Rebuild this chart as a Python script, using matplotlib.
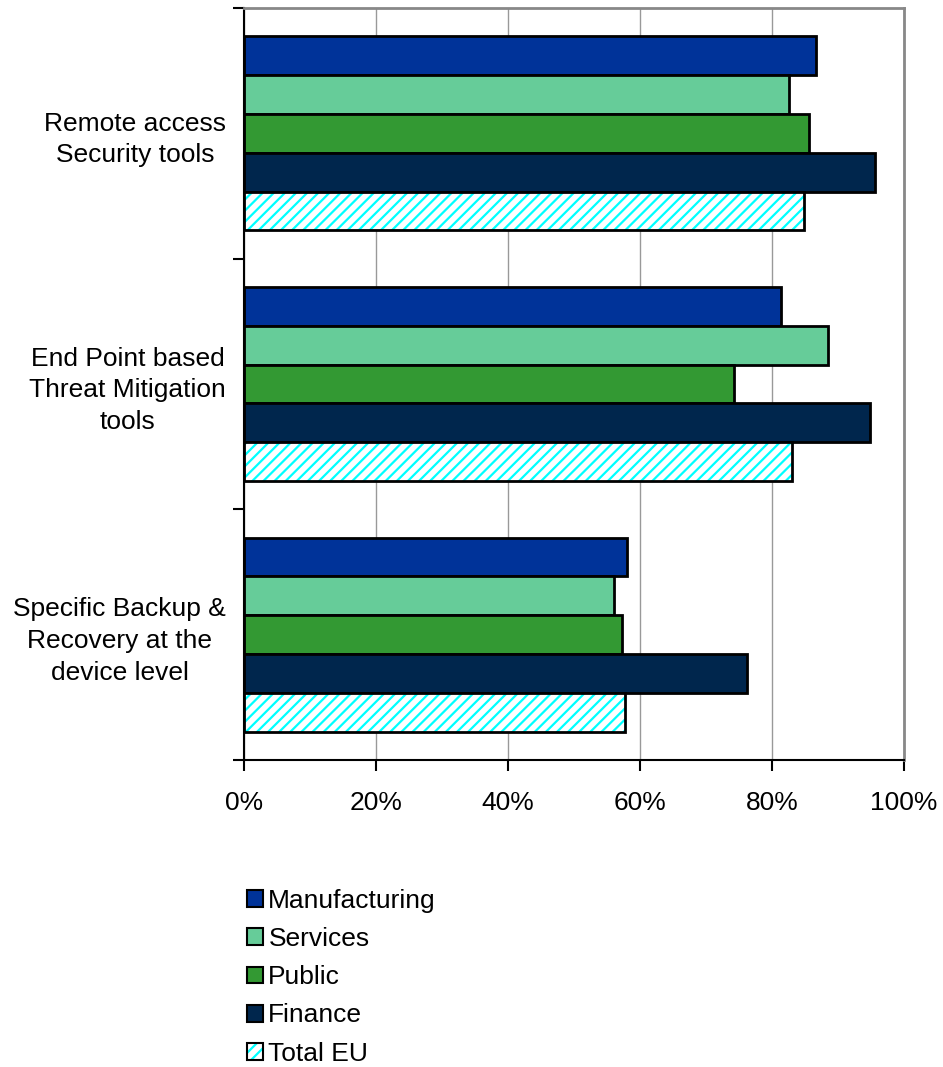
import numpy as np
import matplotlib
matplotlib.use("Agg")
import matplotlib.pyplot as plt
from matplotlib.patches import Patch

plt.rcParams['font.family'] = ['Liberation Sans', 'DejaVu Sans']
plt.rcParams['hatch.linewidth'] = 1.6

categories = [
    "Remote access\nSecurity tools",
    "End Point based\nThreat Mitigation\ntools",
    "Specific Backup &\nRecovery at the\ndevice level",
]
series = ["Manufacturing", "Services", "Public", "Finance", "Total EU"]
manufacturing = [86.6, 81.3, 58.1]
services = [82.6, 88.5, 56.1]
public = [85.6, 74.3, 57.3]
finance = [95.6, 94.8, 76.2]
total_eu = [84.9, 83.0, 57.8]
values = [manufacturing, services, public, finance, total_eu]
colors = ["#003399", "#66CC99", "#339933", "#00264D", "white"]
HATCH = "///"

fig = plt.figure(figsize=(9.43, 10.67), dpi=100)
ax = fig.add_axes([0.2587, 0.2877, 0.7, 0.7048])

centers = np.arange(len(categories)) + 0.5
bar_h = 0.155
for i, (name, vals) in enumerate(zip(series, values)):
    ys = centers + (i - 2) * bar_h
    if name == "Total EU":
        # hatched fill first, then a black outline on top
        ax.barh(ys, vals, height=bar_h, color="white", hatch=HATCH,
                edgecolor="#00FFFF", linewidth=0)
        ax.barh(ys, vals, height=bar_h, fill=False, edgecolor="black",
                linewidth=2)
    else:
        ax.barh(ys, vals, height=bar_h, color=colors[i], edgecolor="black",
                linewidth=2)

ax.set_xlim(0, 100)
ax.set_ylim(3, 0)
ax.set_xticks(np.arange(0, 101, 20))
ax.set_xticklabels([f"{v}%" for v in range(0, 101, 20)], fontsize=19)
ax.xaxis.grid(True, color="#999999", linewidth=1)
ax.set_axisbelow(True)

ax.set_yticks(centers)
ax.set_yticklabels(categories, fontsize=19, multialignment="center",
                   linespacing=1.4)
ax.set_yticks(np.arange(0, 4), minor=True)
ax.tick_params(axis="y", which="major", length=0, pad=13)
ax.tick_params(axis="y", which="minor", length=8, width=1.5, direction="out")
ax.tick_params(axis="x", length=8, width=1.5, direction="out", pad=14)

for side in ["top", "right"]:
    ax.spines[side].set_color("#888888")
    ax.spines[side].set_linewidth(2)
for side in ["left", "bottom"]:
    ax.spines[side].set_color("black")
    ax.spines[side].set_linewidth(1.5)

handles = [Patch(facecolor=c, edgecolor="black", linewidth=1.5) for c in colors[:4]]
handles.append((Patch(facecolor="white", hatch=HATCH, edgecolor="#00FFFF", linewidth=0),
                Patch(fill=False, edgecolor="black", linewidth=1.5)))
fig.legend(handles, series, loc="upper left", bbox_to_anchor=(0.251, 0.177),
           frameon=False, fontsize=19, handlelength=0.6, handleheight=0.6,
           handletextpad=0.2, labelspacing=0.54, borderaxespad=0)

fig.savefig("out.png", dpi=100)
